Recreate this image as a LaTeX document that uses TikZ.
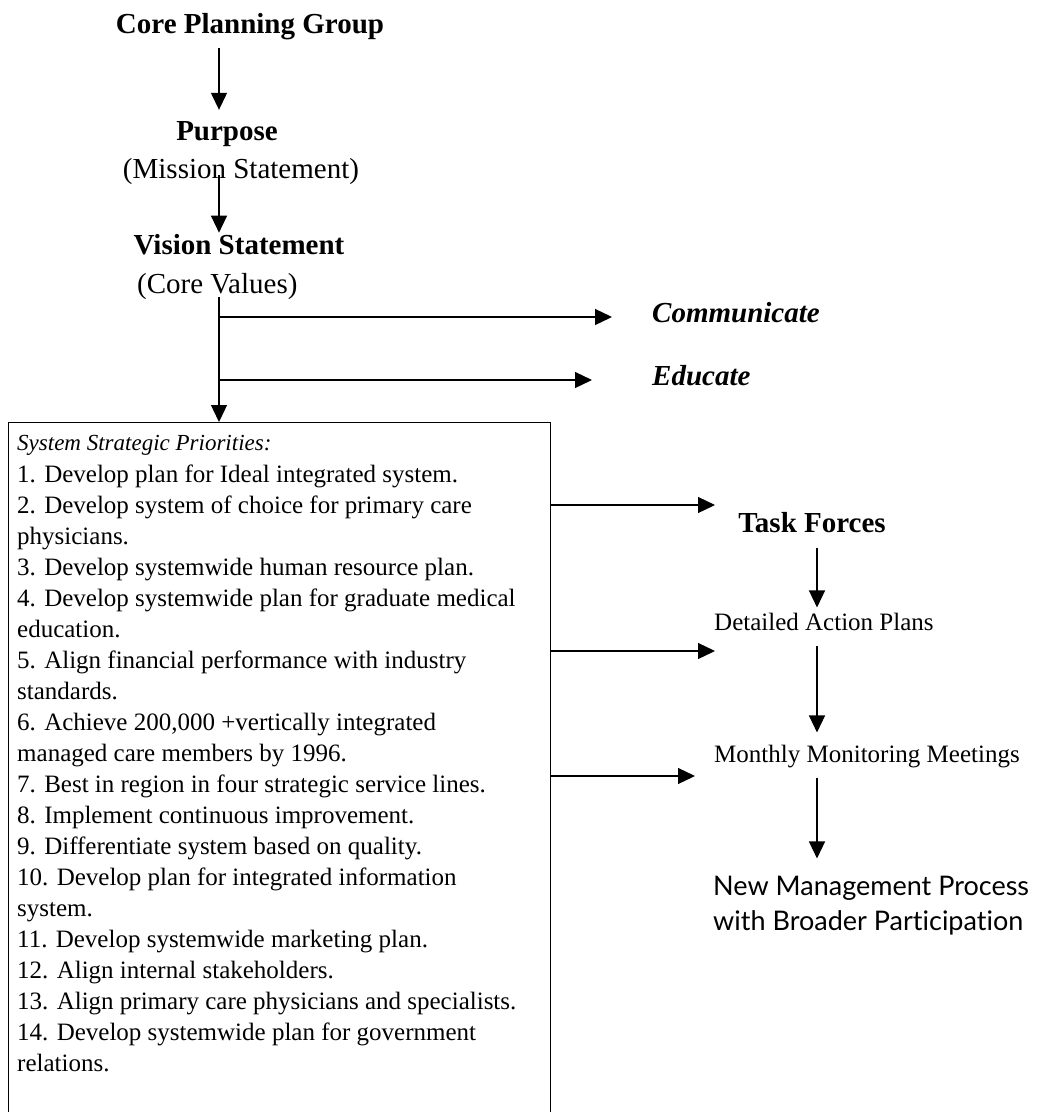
\documentclass[tikz,border=0pt]{standalone}
\usepackage{fontspec}
\setmainfont{Liberation Serif}
\newfontfamily\gillfont[Ligatures=NoCommon]{Lato}
\usetikzlibrary{arrows.meta}
\begin{document}
\begin{tikzpicture}[x=1pt,y=-1pt,
  arr/.style={-{Triangle[length=17pt,width=16pt]}, line width=1.3pt},
  head/.style={inner sep=0, anchor=base, font=\fontsize{29}{34}\selectfont\bfseries},
  sub/.style={inner sep=0, anchor=base, font=\fontsize{29}{34}\selectfont},
  bi/.style={inner sep=0, anchor=base west, font=\fontsize{29}{34}\selectfont\bfseries\itshape},
  item/.style={inner sep=0, anchor=base west, font=\fontsize{25}{31}\selectfont},
  ital/.style={inner sep=0, anchor=base west, font=\fontsize{23}{28}\selectfont\itshape},
  sans/.style={inner sep=0, anchor=base west, font=\fontsize{27}{32}\selectfont\gillfont}]
\clip (0,0) rectangle (1055,1112);
\fill[white] (0,0) rectangle (1055,1112);

% left column
\node[head] (cpg) at (250,33) {Core Planning Group};
\node[head] (purp) at (227,140) {Purpose};
\node[sub] (miss) at (241,178) {(Mission Statement)};
\node[head] (vis) at (239,254) {Vision Statement};
\node[sub, anchor=base west] (cv) at (137,293) {(Core Values)};
\node[bi] (comm) at (652,322) {Communicate};
\node[bi] (edu) at (652,385) {Educate};

% priorities box
\node[draw, line width=1.2pt, minimum width=542pt, minimum height=720pt,
      anchor=north west, inner sep=0] (box) at (8,422) {};
\node[ital] (hdr) at (17,450) {System Strategic Priorities:};
\foreach \t [count=\i] in {
  {1. Develop plan for Ideal integrated system.},
  {2. Develop system of choice for primary care},
  {physicians.},
  {3. Develop systemwide human resource plan.},
  {4. Develop systemwide plan for graduate medical},
  {education.},
  {5. Align financial performance with industry},
  {standards.},
  {6. Achieve 200,000 +vertically integrated},
  {managed care members by 1996.},
  {7. Best in region in four strategic service lines.},
  {8. Implement continuous improvement.},
  {9. Differentiate system based on quality.},
  {10. Develop plan for integrated information},
  {system.},
  {11. Develop systemwide marketing plan.},
  {12. Align internal stakeholders.},
  {13. Align primary care physicians and specialists.},
  {14. Develop systemwide plan for government},
  {relations.}}
  \node[item] (it\i) at (17,{482+31*(\i-1)}) {\t};

% right column
\node[head] (tf) at (812,532) {Task Forces};
\node[item] (dap) at (714,630) {Detailed Action Plans};
\node[item] (mmm) at (714,762) {Monthly Monitoring Meetings};
\node[sans] (nmp) at (713,895) {New Management Process};
\node[sans] (wbp) at (713,930) {with Broader Participation};

% connectors
\coordinate (sx) at (219,0);
\coordinate (rx) at (817,0);
\coordinate (ct) at (612,317);
\coordinate (et) at (592,380);
\coordinate (t1) at (715,505);
\coordinate (t2) at (715,651);
\coordinate (t3) at (695,776);

\draw[arr, shorten <=8pt, shorten >=11pt] (cpg.south -| sx) -- (purp.north -| sx);
\draw[arr, shorten <=-9pt, shorten >=1pt] (miss.south -| sx) -- (vis.north -| sx);
\draw[arr, shorten <=-2pt] (cv.south -| sx) -- (box.north -| sx);
\draw[arr] (sx |- ct) -- (ct);
\draw[arr] (sx |- et) -- (et);
\draw[arr] (box.east |- t1) -- (t1);
\draw[arr] (box.east |- t2) -- (t2);
\draw[arr] (box.east |- t3) -- (t3);
\draw[arr, shorten <=16pt, shorten >=5pt] (tf.south -| rx) -- (dap.north -| rx);
\draw[arr, shorten <=16pt, shorten >=12pt] (dap.south -| rx) -- (mmm.north -| rx);
\draw[arr, shorten <=10pt, shorten >=17pt] (mmm.south -| rx) -- (nmp.north -| rx);
\end{tikzpicture}
\end{document}
